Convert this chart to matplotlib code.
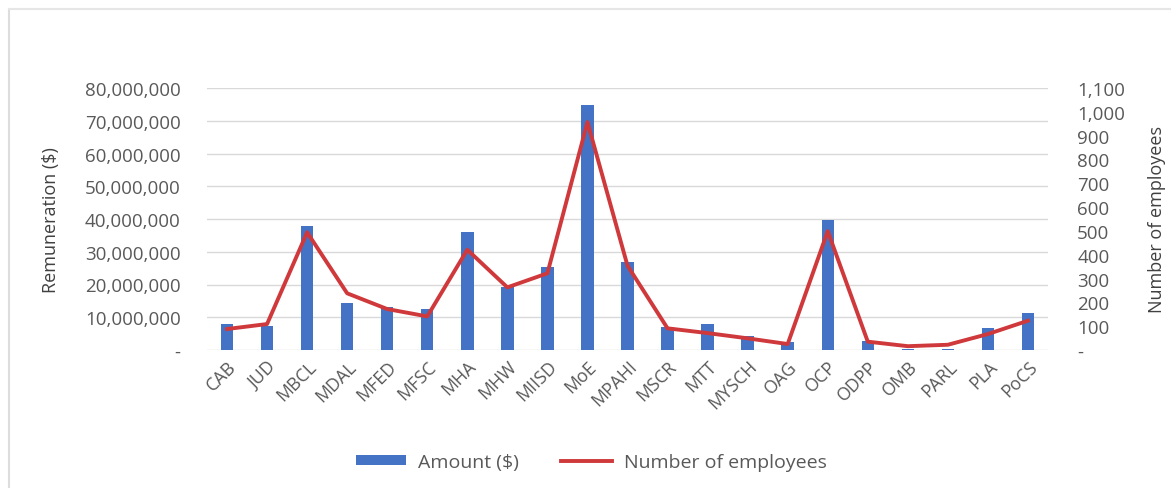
import matplotlib
matplotlib.use("Agg")
import matplotlib.pyplot as plt
from matplotlib.ticker import FuncFormatter, MultipleLocator
from matplotlib.lines import Line2D
from matplotlib.patches import Patch
import numpy as np

departments = ["CAB", "JUD", "MBCL", "MDAL", "MFED", "MFSC", "MHA", "MHW", "MIISD", "MoE",
               "MPAHI", "MSCR", "MTT", "MYSCH", "OAG", "OCP", "ODPP", "OMB", "PARL", "PLA", "PoCS"]
amount = [7.9e6, 7.4e6, 38.0e6, 14.3e6, 13.0e6, 12.5e6, 36.1e6, 19.3e6, 25.2e6, 74.9e6,
          27.0e6, 6.9e6, 7.9e6, 4.4e6, 2.5e6, 39.6e6, 2.8e6, 0.2e6, 0.2e6, 6.6e6, 11.2e6]
employees = [88, 109, 494, 238, 172, 141, 421, 263, 322, 957,
             354, 91, 71, 49, 25, 499, 35, 16, 22, 67, 123]

BLUE = "#4472C4"
RED = "#D0393B"
TICK = "#595959"

plt.rcParams["font.family"] = ["Open Sans", "DejaVu Sans"]

fig = plt.figure(figsize=(11.71, 4.89), dpi=100)
ax = fig.add_axes([207 / 1171, 1 - 351 / 489, (1048 - 207) / 1171, (351 - 89) / 489])
ax2 = ax.twinx()

x = np.arange(len(departments))
ax.bar(x, amount, width=0.31, color=BLUE, zorder=2)
ax2.plot(x, employees, color=RED, linewidth=2.8, zorder=3)

ax.set_xlim(-0.5, len(departments) - 0.5)
ax.set_ylim(0, 80e6)
ax2.set_ylim(0, 1100)
ax.yaxis.set_major_locator(MultipleLocator(10e6))
ax2.yaxis.set_major_locator(MultipleLocator(100))
ax.yaxis.set_major_formatter(FuncFormatter(lambda v, p: "-" if v == 0 else f"{v:,.0f}"))
ax2.yaxis.set_major_formatter(FuncFormatter(lambda v, p: "-" if v == 0 else f"{v:,.0f}"))

ax.grid(axis="y", color="#D9D9D9", linewidth=1, zorder=0)
ax.set_axisbelow(True)
for a in (ax, ax2):
    for s in a.spines.values():
        s.set_visible(False)
    a.tick_params(length=0, colors=TICK, labelsize=13.5)
ax.tick_params(axis="y", pad=19)
ax2.tick_params(axis="y", pad=21)

ax.set_xticks(x)
ax.set_xticklabels(departments, rotation=45, ha="right", rotation_mode="anchor")
ax.tick_params(axis="x", pad=5, labelsize=12.8)

ax.set_ylabel("Remuneration ($)", fontsize=13, color="#404040", va="center")
ax2.set_ylabel("Number of employees", fontsize=13, color="#404040", va="center", rotation=90)
ax.yaxis.set_label_coords((51 - 207) / 841, 0.5)
ax2.yaxis.set_label_coords((1157 - 207) / 841, 0.5)

handles = [Patch(facecolor=BLUE), Line2D([0], [0], color=RED, linewidth=2.8)]
fig.legend(handles, ["Amount ($)", "Number of employees"], loc="center",
           bbox_to_anchor=(591 / 1171, 1 - 463 / 489), ncol=2, frameon=False,
           fontsize=14, labelcolor=TICK, handlelength=2.6, handleheight=0.45,
           handletextpad=0.6, columnspacing=2.2)

# faint outer frame of the original chart
fig.add_artist(Line2D([9 / 1171, 9 / 1171], [0, 1 - 10 / 489], color="#DDDDDD", linewidth=1.5))
fig.add_artist(Line2D([9 / 1171, 1], [1 - 10 / 489, 1 - 10 / 489], color="#E6E6E6", linewidth=1.5))

fig.savefig("out.png", dpi=100)
